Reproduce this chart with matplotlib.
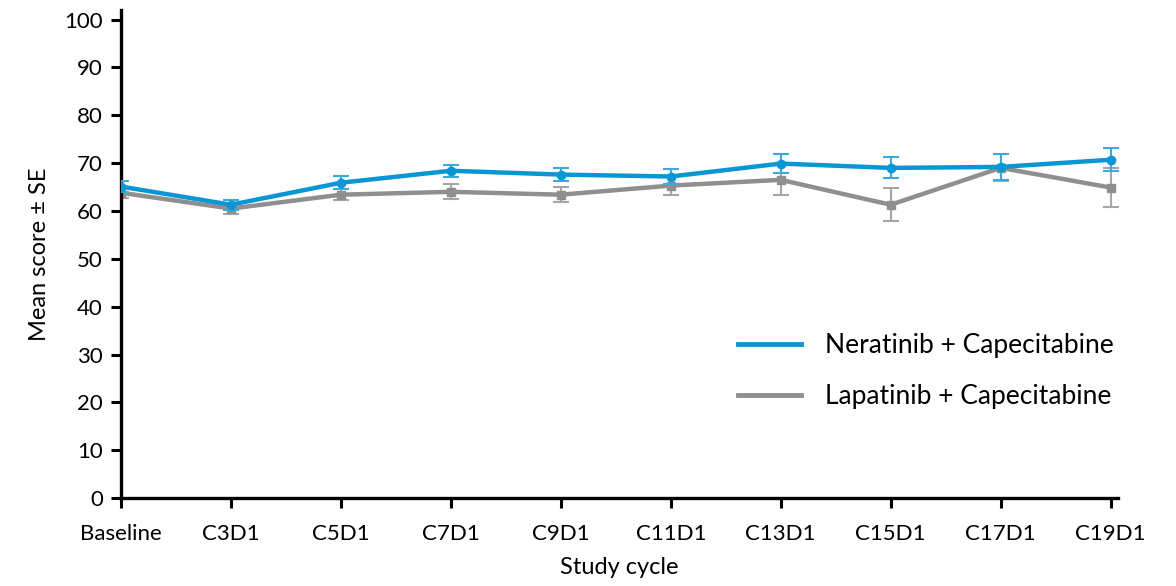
import numpy as np
import matplotlib.pyplot as plt
from matplotlib.lines import Line2D

plt.rcParams['font.family'] = ['Lato', 'DejaVu Sans']

ciclos = ["Baseline", "C3D1", "C5D1", "C7D1", "C9D1", "C11D1", "C13D1", "C15D1", "C17D1", "C19D1"]
neratinib = [65.1, 61.3, 65.9, 68.4, 67.6, 67.2, 69.9, 69.0, 69.2, 70.7]
neratinib_se = [1.2, 1.0, 1.4, 1.3, 1.4, 1.5, 1.9, 2.2, 2.7, 2.4]
lapatinib = [63.8, 60.5, 63.4, 64.0, 63.4, 65.3, 66.5, 61.3, 69.0, 64.9]
lapatinib_se = [1.1, 1.1, 1.2, 1.6, 1.6, 2.0, 3.2, 3.4, 2.8, 4.0]

azul = "#0a96d4"
cinza = "#8f8f8f"

x = np.arange(len(ciclos))

fig = plt.figure(figsize=(11.76, 5.86), dpi=100)
ax = fig.add_axes([0.1029, 0.150, 0.848, 0.833])

ax.errorbar(x, lapatinib, yerr=lapatinib_se, color=cinza, lw=3.2, marker="s", ms=6,
            ecolor="#a6a6a6", elinewidth=1.5, capsize=6, capthick=1.5,
            label="Lapatinib + Capecitabine", zorder=2)
ax.errorbar(x, neratinib, yerr=neratinib_se, color=azul, lw=3.2, marker="o", ms=6,
            ecolor="#3aa9dc", elinewidth=1.5, capsize=6, capthick=1.5,
            label="Neratinib + Capecitabine", zorder=3)

ax.set_xlim(0, 9.07)
ax.set_ylim(0, 102)
ax.set_yticks(np.arange(0, 101, 10))
ax.set_xticks(x)
ax.set_xticklabels(ciclos)
ax.tick_params(axis="both", labelsize=16, width=2.2, length=7, direction="out")
ax.tick_params(axis="x", pad=12)
ax.tick_params(axis="y", pad=6)
for s in ["top", "right"]:
    ax.spines[s].set_visible(False)
for s in ["left", "bottom"]:
    ax.spines[s].set_linewidth(2.4)
ax.set_clip_on(False)

ax.set_xlabel("Study cycle", fontsize=17, labelpad=9)
ax.set_ylabel("Mean score ± SE", fontsize=17, labelpad=10)

# legenda
handles = [Line2D([], [], color=azul, lw=3.5), Line2D([], [], color=cinza, lw=3.5)]
ax.legend(handles, ["Neratinib + Capecitabine", "Lapatinib + Capecitabine"],
          loc="center left", bbox_to_anchor=(0.595, 0.26), frameon=False, fontsize=19,
          handlelength=2.4, labelspacing=1.0, handletextpad=0.9)

plt.savefig("out.png", dpi=100)
